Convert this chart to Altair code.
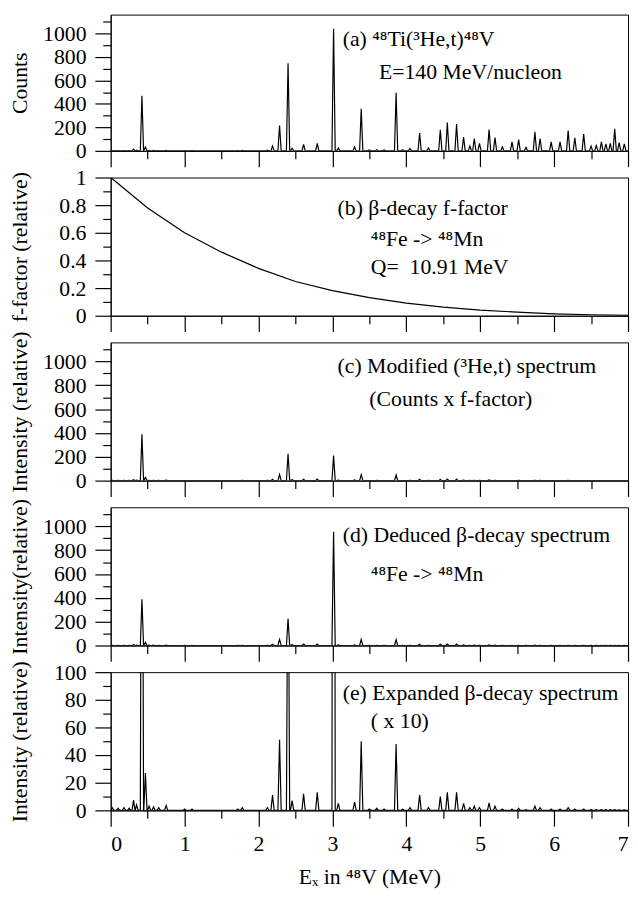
import altair as alt
import pandas as pd

FONT = "Liberation Serif"

# ---- peak positions (MeV) and heights ----
peak_E = [0.02, 0.10, 0.18, 0.25, 0.31, 0.35, 0.423, 0.47, 0.52, 0.58, 0.65, 0.75,
          1.00, 1.10, 1.72, 1.78, 2.12, 2.19, 2.285, 2.40, 2.455, 2.61, 2.795,
          3.016, 3.08, 3.30, 3.39, 3.50, 3.60, 3.70, 3.862, 3.95, 4.05, 4.18, 4.30,
          4.46, 4.555, 4.68, 4.775, 4.86, 4.92, 4.99, 5.12, 5.20, 5.30, 5.43, 5.52,
          5.62, 5.74, 5.81, 5.96, 6.08, 6.19, 6.28, 6.40, 6.50, 6.57, 6.64, 6.70,
          6.76, 6.82, 6.88, 6.95]
counts_a = [3, 2, 3, 2, 14, 6, 470, 33, 5, 4, 3, 5,
            2, 2, 3, 5, 6, 41, 215, 745, 22, 55, 63,
            1040, 25, 35, 358, 8, 10, 8, 495, 10, 20, 151, 25,
            179, 242, 229, 118, 40, 105, 63, 182, 113, 35, 77, 96,
            30, 163, 105, 77, 77, 174, 110, 143, 40, 45, 77, 60,
            63, 187, 70, 60]
intensity_c = [2, 1.5, 2, 1.5, 7.5, 4, 388, 27, 3, 2.5, 2, 3.5,
               1, 1, 1, 2, 2, 11, 51, 225, 7, 12, 13,
               210, 5, 6, 50, 1, 1.5, 1, 48, 1, 2, 11, 2,
               10, 13, 13, 5, 2, 3, 2, 5.5, 3, 1, 1, 1.5,
               0.5, 3, 2, 1, 1, 2, 1, 1, 0.5, 0.5, 0.5, 0.5,
               0.5, 0.5, 0.3, 0.3]
intensity_d = [2, 1.5, 2, 1.5, 7.5, 4, 388, 27, 3, 2.5, 2, 3.5,
               1, 1, 1, 2, 2, 11, 51, 225, 7, 12, 13,
               955, 5, 6, 50, 1, 1.5, 1, 48, 1, 2, 11, 2,
               10, 13, 13, 5, 2, 3, 2, 5.5, 3, 1, 1, 1.5,
               0.5, 3, 2, 1, 1, 2, 1, 1, 0.5, 0.5, 0.5, 0.5,
               0.5, 0.5, 0.3, 0.3]
PEAK_HALF_WIDTH = 0.022

# ---- beta-decay f-factor curve ----
ff_E = [0.0, 0.5, 1.0, 1.5, 2.0, 2.5, 3.0, 3.5, 4.0, 4.5, 5.0, 5.5, 6.0, 6.5, 7.0]
ff_val = [1.0, 0.78, 0.60, 0.46, 0.343, 0.248, 0.182, 0.131, 0.091, 0.062,
          0.041, 0.026, 0.014, 0.007, 0.002]

# ---- ticks (major = labelled, minor = in between) ----
x_major = [0, 1, 2, 3, 4, 5, 6, 7]
x_minor = [0.5, 1.5, 2.5, 3.5, 4.5, 5.5, 6.5]
y_major_counts = [0, 200, 400, 600, 800, 1000]
y_minor_counts = [100, 300, 500, 700, 900, 1100]
y_major_ff = [0, 0.2, 0.4, 0.6, 0.8, 1.0]
y_minor_ff = [0.1, 0.3, 0.5, 0.7, 0.9]
y_major_exp = [0, 20, 40, 60, 80, 100]
y_minor_exp = [10, 30, 50, 70, 90]

# ---- annotations ----
ann_panel = ["a", "a", "b", "b", "b", "c", "c", "d", "d", "e", "e"]
ann_x = [3.14, 3.63, 3.07, 3.52, 3.52, 3.07, 3.50, 3.14, 3.52, 3.14, 3.52]
ann_y = [950, 670, 0.78, 0.555, 0.355, 957, 688, 930, 597, 84.5, 64.3]
ann_text = ["(a) \u2074\u2078Ti(\u00b3He,t)\u2074\u2078V",
            "E=140 MeV/nucleon",
            "(b) \u03b2-decay f-factor",
            "\u2074\u2078Fe -> \u2074\u2078Mn",
            "Q=\u00a0 10.91 MeV",
            "(c) Modified (\u00b3He,t) spectrum",
            "(Counts x f-factor)",
            "(d) Deduced \u03b2-decay spectrum",
            "\u2074\u2078Fe -> \u2074\u2078Mn",
            "(e) Expanded \u03b2-decay spectrum",
            "( x 10)"]

y_titles = {"a": "Counts", "b": "f-factor (relative)", "c": "Intensity (relative)",
            "d": "Intensity(relative)", "e": "Intensity (relative)"}
x_title = "E\u2093 in \u2074\u2078V (MeV)"

W = 524
HEIGHTS = {"a": 138, "b": 140, "c": 140, "d": 140, "e": 140}
MAJOR_TICK = 16
MINOR_TICK = 8
TICK_STYLE = dict(ticks=True, tickColor="black", tickWidth=1.2)


def spectrum_frame(heights):
    xs, ys = [0.0], [0.0]
    for e, h in zip(peak_E, heights):
        xs += [e - PEAK_HALF_WIDTH, e, e + PEAK_HALF_WIDTH]
        ys += [0.0, h, 0.0]
    xs.append(7.0)
    ys.append(0.0)
    return pd.DataFrame({"x": xs, "y": ys})


ann_df = pd.DataFrame({"panel": ann_panel, "x": ann_x, "y": ann_y, "text": ann_text})

X_SCALE = alt.Scale(domain=[0, 7], nice=False, zero=False)


def y_setup(panel):
    if panel == "b":
        return y_major_ff, y_minor_ff, [0, 1], "~g"
    if panel == "e":
        return y_major_exp, y_minor_exp, [0, 100], "d"
    return y_major_counts, y_minor_counts, [0, 1160], "d"


def tick_layer(line_df, y_scale, xvals, yvals, size):
    """Invisible layer whose only purpose is to carry a set of axis ticks."""
    return alt.Chart(line_df).mark_line(strokeOpacity=0, clip=True).encode(
        x=alt.X("x:Q", scale=X_SCALE,
                axis=alt.Axis(values=xvals, tickSize=size, orient="bottom",
                              labels=False, domain=False, title=None, **TICK_STYLE)),
        y=alt.Y("y:Q", scale=y_scale,
                axis=alt.Axis(values=yvals, tickSize=size, orient="left",
                              labels=False, domain=False, title=None, **TICK_STYLE)),
    )


def panel_chart(panel, line_df):
    bottom = panel == "e"
    ymaj, ymin, ydom, yfmt = y_setup(panel)
    y_scale = alt.Scale(domain=ydom, nice=False, zero=False)

    xkw = dict(values=x_major, ticks=False, orient="bottom", labels=bottom,
               format="d", labelPadding=MAJOR_TICK + 8)
    if bottom:
        xkw["title"] = x_title
        xkw["titlePadding"] = 12
    else:
        xkw["title"] = None
    xe = alt.X("x:Q", scale=X_SCALE, axis=alt.Axis(**xkw))
    ye = alt.Y("y:Q", scale=y_scale,
               axis=alt.Axis(values=ymaj, ticks=False, orient="left", format=yfmt,
                             labelPadding=MAJOR_TICK + 9, title=y_titles[panel], titleX=-85,
                             titleBaseline="alphabetic"))

    line = alt.Chart(line_df).mark_line(color="black", strokeWidth=1.2, clip=True).encode(x=xe, y=ye)
    txt = alt.Chart(ann_df[ann_df.panel == panel]).mark_text(
        align="left", baseline="middle", font=FONT, fontSize=22, color="black"
    ).encode(x=xe, y=ye, text="text:N")
    main = alt.layer(line, txt)

    major_ticks = tick_layer(line_df, y_scale, x_major, ymaj, MAJOR_TICK)
    minor_ticks = tick_layer(line_df, y_scale, x_minor, ymin, MINOR_TICK)
    return alt.layer(main, major_ticks, minor_ticks).resolve_scale(
        x="independent", y="independent").properties(width=W, height=HEIGHTS[panel])


pa = panel_chart("a", spectrum_frame(counts_a))
pb = panel_chart("b", pd.DataFrame({"x": ff_E, "y": ff_val}))
pc = panel_chart("c", spectrum_frame(intensity_c))
pdd = panel_chart("d", spectrum_frame(intensity_d))
pe = panel_chart("e", spectrum_frame(intensity_d))

chart = alt.vconcat(pa, pb, pc, pdd, pe, spacing=27, bounds="flush").configure_view(
    stroke="black", strokeWidth=1
).configure_axis(
    domainColor="black", labelColor="black", titleColor="black",
    labelFont=FONT, titleFont=FONT, labelFontSize=22, titleFontSize=22,
    titleFontWeight="normal", grid=False, domainWidth=1
).properties(padding={"top": 0, "left": 0, "right": 0, "bottom": 0}, background="white")

chart.save("out.html", embed_options={"renderer": "svg", "actions": False})
